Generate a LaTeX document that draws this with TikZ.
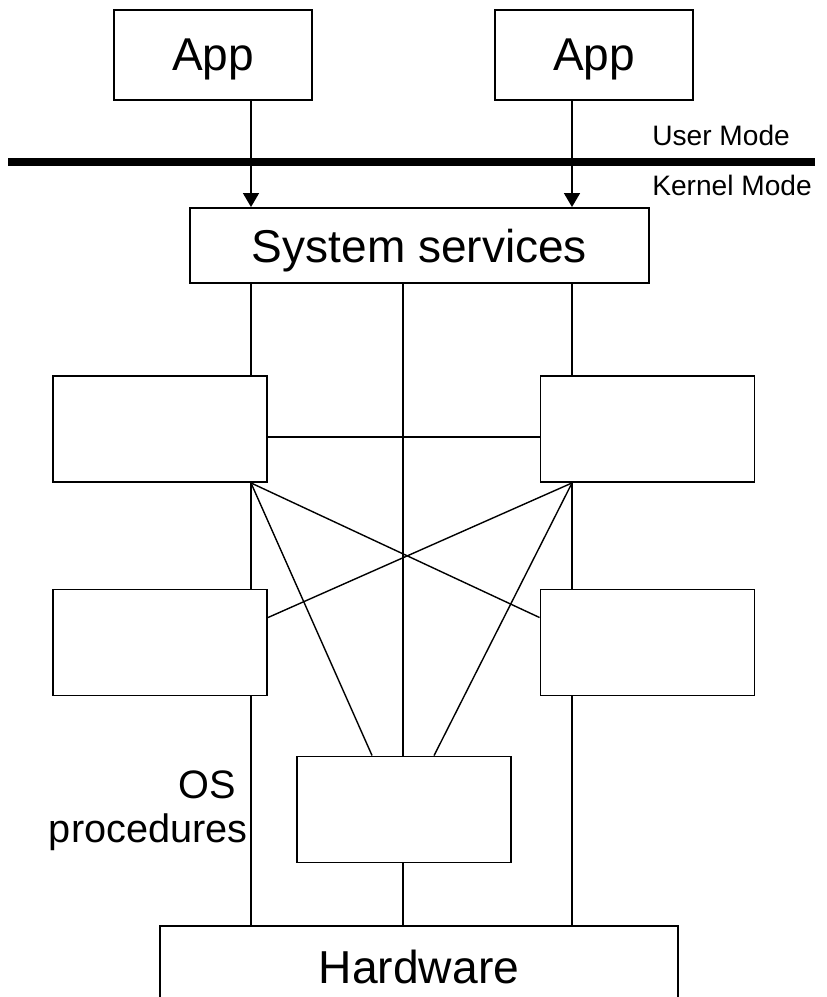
\documentclass[tikz,border=0pt]{standalone}
\usepackage{fontspec}
\setmainfont{Liberation Sans}
\usetikzlibrary{arrows.meta, positioning, calc}

\tikzset{
    % Boxes with a label
    unit/.style={draw, line width=1.1pt, fill=white, text depth=0pt, font=\fontsize{26.2}{31}\selectfont},
    % Empty OS procedure boxes
    module/.style={draw, line width=1.1pt, fill=white, minimum width=4.28cm, minimum height=2.12cm},
    link/.style={line width=0.9pt},
    cross/.style={line width=0.8pt},
    call/.style={line width=0.9pt, -{Triangle[length=2.8mm, width=3.2mm]}},
    modelabel/.style={anchor=base west, inner sep=0pt, font=\fontsize{16}{19}\selectfont}
}

\begin{document}
\begin{tikzpicture}[x=0.02cm, y=-0.02cm]
        \useasboundingbox (0,0) rectangle (827,997);

        % Columns of the vertical links
        \coordinate (colL) at (251,0);
        \coordinate (colM) at (403,0);
        \coordinate (colR) at (572,0);

        % Applications
        \node[unit, minimum width=3.96cm, minimum height=1.8cm] (appL) at (213,55) {App};
        \node[unit, minimum width=3.96cm, minimum height=1.8cm] (appR) at (594,55) {App};

        % User / kernel boundary
        \coordinate (barW) at (8,162);
        \coordinate (barE) at (815,162);
        \draw[line width=4pt] (barW) -- (barE);
        \node[modelabel] (user) at (652,145) {User Mode};
        \node[modelabel] (kernel) at (652,195) {Kernel Mode};

        % System services
        \node[unit, minimum width=9.18cm, minimum height=1.5cm] (sys) at (419.5,245.5) {System services};

        % OS procedures
        \node[module] (modA) at (160,429) {};
        \node[module] (modB) at (647.5,429) {};
        \node[module] (modC) at (160,642.5) {};
        \node[module] (modD) at (647.5,642.5) {};
        \node[module] (modE) at (404,809.5) {};
        \node[align=right, anchor=east, inner sep=0pt, font=\fontsize{22.6}{25}\selectfont] (osproc) at (248,811) {\mbox{OS\hspace{0.24cm}}\\procedures};

        % Hardware (cut by the lower edge)
        \node[unit, font=\fontsize{26.3}{31}\selectfont, minimum width=10.37cm, minimum height=1.62cm] (hw) at (419,966.6) {Hardware};

        % Calls from user mode
        \draw[call] (appL.south -| colL) -- (sys.north -| colL);
        \draw[call] (appR.south -| colR) -- (sys.north -| colR);

        % Vertical links
        \draw[link] (sys.south -| colL) -- (modA.north -| colL);
        \draw[link] (modA.south -| colL) -- (modC.north -| colL);
        \draw[link] (modC.south -| colL) -- (hw.north -| colL);
        \draw[link] (sys.south -| colR) -- (modB.north -| colR);
        \draw[link] (modB.south -| colR) -- (modD.north -| colR);
        \draw[link] (modD.south -| colR) -- (hw.north -| colR);
        \draw[link] (sys.south -| colM) -- (modE.north -| colM);
        \draw[link] (modE.south -| colM) -- (hw.north -| colM);

        % Link between the upper boxes
        \draw[link] ([yshift=-0.16cm]modA.east) -- ([yshift=-0.16cm]modB.west);

        % Crossing links
        \coordinate (hubL) at (modA.south -| colL);
        \coordinate (hubR) at (modB.south -| colR);
        \draw[cross] (hubL) -- ($(modD.north west)+(0,29)$);
        \draw[cross] (hubL) -- ($(modE.north west)+(76,0)$);
        \draw[cross] (hubR) -- ($(modC.north east)+(0,29)$);
        \draw[cross] (hubR) -- ($(modE.north west)+(138,0)$);
\end{tikzpicture}
\end{document}
